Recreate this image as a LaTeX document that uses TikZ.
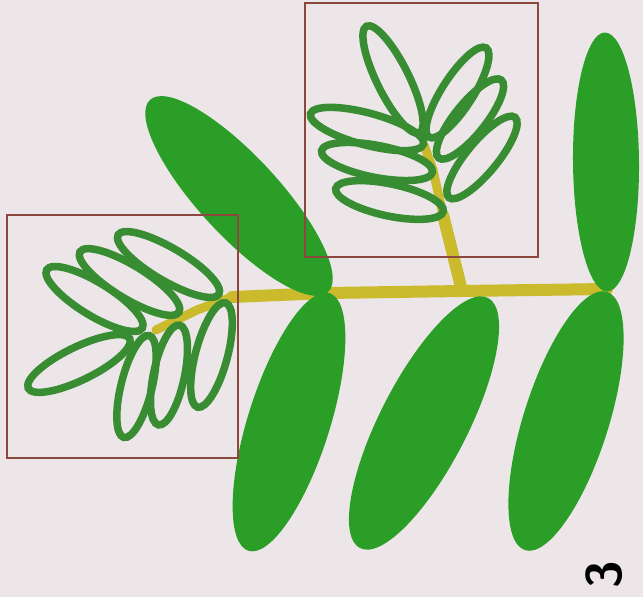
\documentclass[tikz,border=0pt]{standalone}
\usepackage{tikz}
\usetikzlibrary{shapes.geometric}

\definecolor{paper}{RGB}{236,230,233}
\definecolor{leafgreen}{RGB}{42,158,38}
\definecolor{rimgreen}{RGB}{56,140,50}
\definecolor{stalk}{RGB}{202,186,44}
\definecolor{framered}{RGB}{140,72,62}

\begin{document}
\begin{tikzpicture}[x=1pt, y=1pt,
    bigleaf/.style={ellipse, fill=leafgreen, inner sep=0pt, outer sep=0pt},
    leaflet/.style={ellipse, draw=rimgreen, line width=7.5pt, inner sep=0pt, outer sep=0pt},
    stalkline/.style={draw=stalk, line width=12pt, line cap=round, line join=round},
    twigline/.style={draw=stalk, line width=9pt, line cap=round, line join=round},
    framebox/.style={draw=framered, line width=1.3pt}]

	% Paper
	\fill[paper] (0,0) rectangle (643,597);

	% Stalk and branch
	\coordinate (s0) at (232,300);
	\coordinate (s1) at (328,304);
	\coordinate (s2) at (462,306);
	\coordinate (s3) at (607,308);
	\coordinate (s4) at (443,382);
	\draw[stalkline] (s0) -- (s1) -- (s2) -- (s3);
	\draw[stalkline] (s2) -- (s4);

	% Twigs inside the two frames
	\draw[twigline] (s0) -- (197,287) -- (156,267);
	\draw[twigline] (s4) -- (433,427) -- (424,452);

	% Large leaves on the stalk
	\node[bigleaf, minimum width=262, minimum height=80, rotate=132.8] (b1) at (239,401) {};
	\node[bigleaf, minimum width=270, minimum height=82, rotate=72.5] (b2) at (289,175) {};
	\node[bigleaf, minimum width=281, minimum height=88, rotate=62.9] (b3) at (424,174) {};
	\node[bigleaf, minimum width=259, minimum height=66, rotate=90.5] (b4) at (606,435) {};
	\node[bigleaf, minimum width=271, minimum height=85, rotate=72.4] (b5) at (566,176) {};

	% Leaflets, left frame
	\node[leaflet, minimum width=112, minimum height=33, rotate=148.5] (l1) at (94.5,298) {};
	\node[leaflet, minimum width=116, minimum height=33, rotate=148.6] (l2) at (129.5,315) {};
	\node[leaflet, minimum width=117, minimum height=33, rotate=149.5] (l3) at (168.5,332.5) {};
	\node[leaflet, minimum width=113, minimum height=33, rotate=206] (l4) at (79,233.5) {};
	\node[leaflet, minimum width=105, minimum height=31, rotate=256] (l5) at (136.5,210.5) {};
	\node[leaflet, minimum width=102, minimum height=31, rotate=258] (l6) at (169,222) {};
	\node[leaflet, minimum width=108, minimum height=32, rotate=255] (l7) at (211.5,242) {};

	% Leaflets, upper frame
	\node[leaflet, minimum width=119, minimum height=32, rotate=116.4] (u1) at (393,517.5) {};
	\node[leaflet, minimum width=106, minimum height=31, rotate=57.3] (u2) at (457.5,504.5) {};
	\node[leaflet, minimum width=100, minimum height=31, rotate=51.2] (u3) at (470,478) {};
	\node[leaflet, minimum width=104, minimum height=31, rotate=50.5] (u4) at (482,439.5) {};
	\node[leaflet, minimum width=117, minimum height=32, rotate=165] (u5) at (367,468) {};
	\node[leaflet, minimum width=113, minimum height=32, rotate=169] (u6) at (377,435.5) {};
	\node[leaflet, minimum width=110, minimum height=32, rotate=168] (u7) at (389.5,397) {};

	% Frames
	\draw[framebox] (7,139) rectangle (238,382);
	\draw[framebox] (305,340) rectangle (538,594);

	% Figure number
	\node[rotate=90, font=\sffamily\bfseries\fontsize{50}{50}\selectfont] (num) at (604,22) {3};
\end{tikzpicture}
\end{document}
